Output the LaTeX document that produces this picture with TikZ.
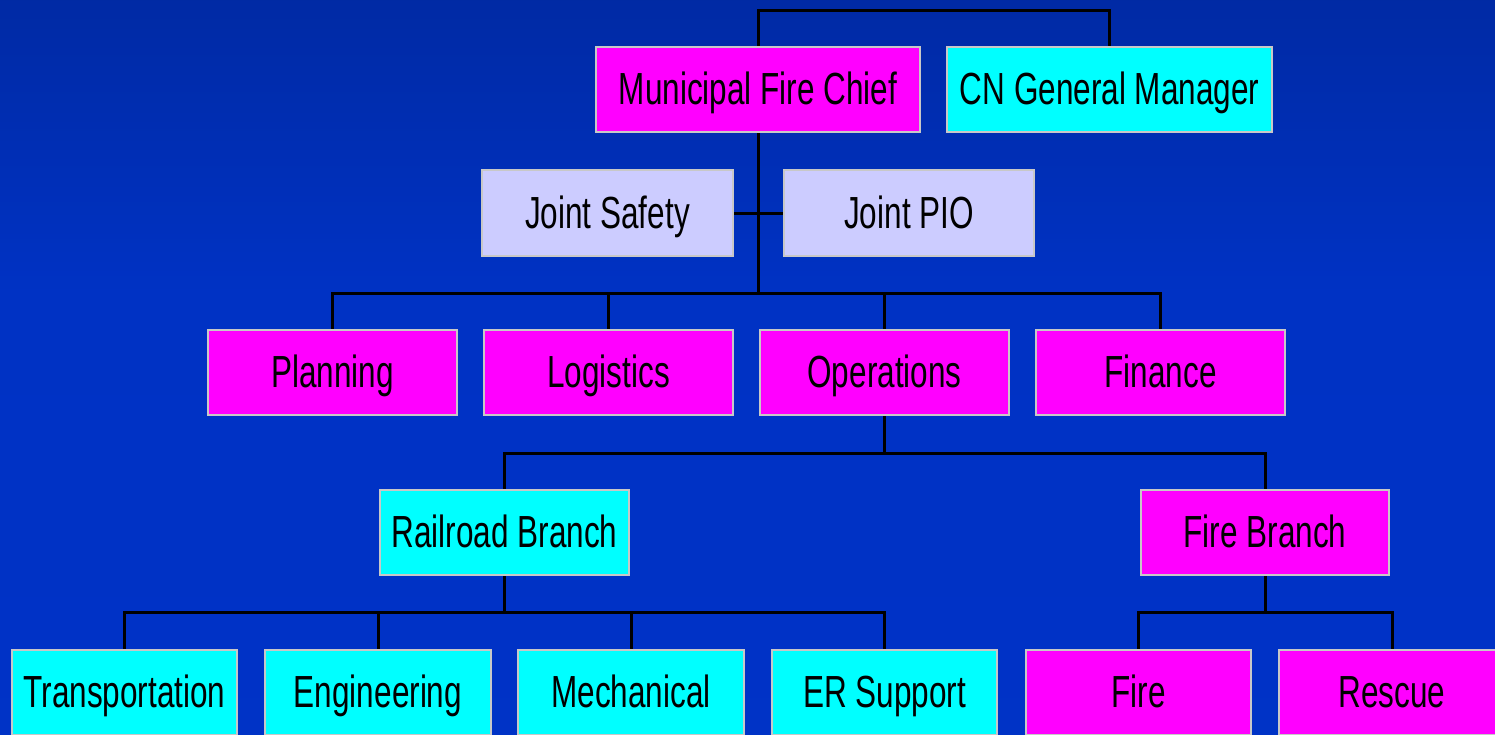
\documentclass[tikz,border=0pt]{standalone}
\usepackage{fontspec}
\setmainfont{Liberation Sans}[FakeStretch=0.70]
\definecolor{bgtop}{RGB}{0,32,125}
\definecolor{bgmid}{RGB}{0,50,196}
\definecolor{bgbot}{RGB}{0,51,200}
\definecolor{boxgray}{RGB}{200,200,200}
\definecolor{mag}{RGB}{255,0,255}
\definecolor{cyn}{RGB}{0,255,255}
\definecolor{lav}{RGB}{204,204,255}
\pgfdeclareverticalshading{bgshade}{100bp}{color(0bp)=(bgbot); color(55bp)=(bgmid); color(100bp)=(bgtop)}
\tikzset{
  box/.style={draw=boxgray, line width=2.5pt, rectangle, inner sep=0pt,
    minimum height=85pt, text height=32pt, text depth=2pt,
    font=\fontsize{45}{50}\selectfont},
  magbox/.style={box, fill=mag},
  cynbox/.style={box, fill=cyn},
  lavbox/.style={box, fill=lav},
  conn/.style={draw=black, line width=3pt}
}
\begin{document}
\begin{tikzpicture}[x=1pt, y=-1pt]
\useasboundingbox (0,0) rectangle (1495,734);
\clip (0,0) rectangle (1495,734);
\shade[shading=bgshade] (0,0) rectangle (1495,734);
% level 1
\node[magbox, minimum width=324pt] (chief) at (758,89.5) {Municipal Fire Chief};
\node[cynbox, minimum width=325pt] (cn) at (1109.5,89.5) {CN General Manager};
% staff
\node[lavbox, minimum width=251pt, minimum height=86pt] (safety) at (607.5,213) {Joint Safety};
\node[lavbox, minimum width=250pt, minimum height=86pt] (pio) at (909,213) {Joint PIO};
% sections
\node[magbox, minimum width=249pt] (planning) at (332.5,372.5) {Planning};
\node[magbox, minimum width=249pt] (logistics) at (608.5,372.5) {Logistics};
\node[magbox, minimum width=249pt] (operations) at (884.5,372.5) {Operations};
\node[magbox, minimum width=249pt] (finance) at (1160.5,372.5) {Finance};
% branches
\node[cynbox, minimum width=249pt] (railroad) at (504.5,532.5) {Railroad Branch};
\node[magbox, minimum width=248pt] (firebranch) at (1265,532.5) {Fire Branch};
% units
\node[cynbox, minimum width=225pt] (transportation) at (124.5,692.5) {Transportation};
\node[cynbox, minimum width=226pt] (engineering) at (378,692.5) {Engineering};
\node[cynbox, minimum width=226pt] (mechanical) at (631,692.5) {Mechanical};
\node[cynbox, minimum width=225pt] (ersupport) at (884.5,692.5) {ER Support};
\node[magbox, minimum width=225pt] (fire) at (1138.5,692.5) {Fire};
\node[magbox, minimum width=226pt] (rescue) at (1392,692.5) {Rescue};
% bus coordinates
\coordinate (bus0) at (758,10);
\coordinate (bus1) at (758,293);
\coordinate (bus2) at (884.5,453);
\coordinate (bus3) at (504.5,612);
% connectors
\draw[conn] (chief.north) -- (chief.north |- bus0) -| (cn.north);
\draw[conn] (chief.south) -- (bus1);
\draw[conn] (safety.east) -- (pio.west);
\draw[conn] (planning.north) |- (finance.north |- bus1) -- (finance.north);
\draw[conn] (logistics.north) -- (logistics.north |- bus1);
\draw[conn] (operations.north) -- (operations.north |- bus1);
\draw[conn] (operations.south) -- (bus2);
\draw[conn] (railroad.north) |- (firebranch.north |- bus2) -- (firebranch.north);
\draw[conn] (railroad.south) -- (bus3);
\draw[conn] (transportation.north) |- (ersupport.north |- bus3) -- (ersupport.north);
\draw[conn] (engineering.north) -- (engineering.north |- bus3);
\draw[conn] (mechanical.north) -- (mechanical.north |- bus3);
\draw[conn] (firebranch.south) -- (firebranch.south |- bus3);
\draw[conn] (fire.north) |- (rescue.north |- bus3) -- (rescue.north);
\end{tikzpicture}
\end{document}
